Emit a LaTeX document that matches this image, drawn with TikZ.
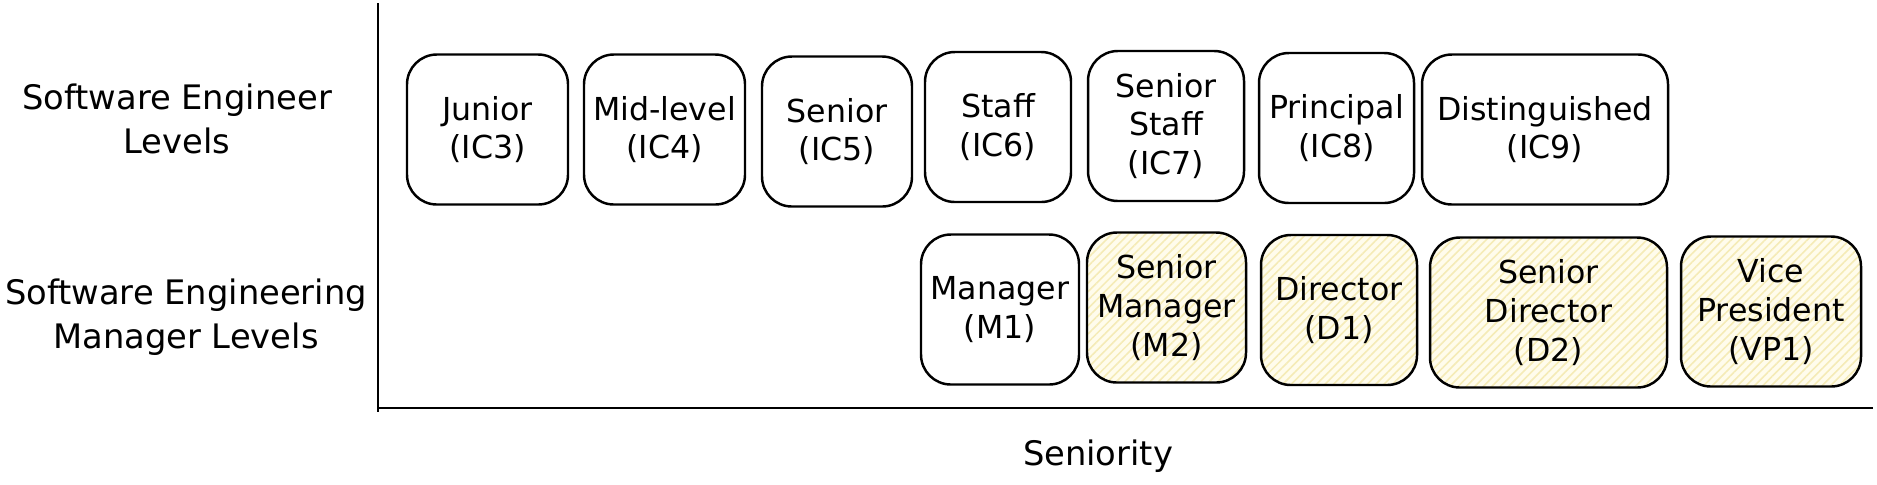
\documentclass[tikz,border=0pt]{standalone}
\usepackage{fontspec}
\setmainfont{DejaVu Sans}
\usetikzlibrary{patterns.meta}
\definecolor{hatchbg}{RGB}{255,252,236}
\definecolor{hatchln}{RGB}{245,235,182}
\begin{document}
\begin{tikzpicture}[line width=.7pt,
  lvl/.style={draw,rounded corners=8.5pt,minimum height=1.5cm,align=center,inner sep=1pt,font=\fontsize{9}{11}\selectfont},
  mgr/.style={lvl,preaction={fill=hatchbg},pattern={Lines[angle=45,distance=1.7pt,line width=.45pt]},pattern color=hatchln},
  lbl/.style={align=center,font=\fontsize{9.6}{12.5}\selectfont}]
\useasboundingbox (0,0) rectangle (18.77,-4.84);
\coordinate (top) at (3.78,-0.03); \coordinate (org) at (3.78,-4.08); \coordinate (end) at (18.73,-4.08);
\draw (top)--([yshift=-1pt]org); \draw (org)--(end);
\node[lbl] (swe) at (1.77,-1.19) {Software Engineer\\Levels};
\node[lbl] (sem) at (1.86,-3.17) {Software Engineering\\Manager Levels};
\node[lbl] (sen) at (10.98,-4.56) {Seniority};
\node[lvl,minimum width=1.61cm] (ic3) at (4.875,-1.295) {Junior\\(IC3)};
\node[lvl,minimum width=1.61cm] (ic4) at (6.645,-1.295) {Mid-level\\(IC4)};
\node[lvl,minimum width=1.50cm] (ic5) at (8.37,-1.315) {Senior\\(IC5)};
\node[lvl,minimum width=1.46cm] (ic6) at (9.98,-1.27) {Staff\\(IC6)};
\node[lvl,minimum width=1.56cm] (ic7) at (11.66,-1.26) {Senior\\Staff\\(IC7)};
\node[lvl,minimum width=1.55cm] (ic8) at (13.365,-1.28) {Principal\\(IC8)};
\node[lvl,minimum width=2.46cm] (ic9) at (15.45,-1.295) {Distinguished\\(IC9)};
\node[lvl,minimum width=1.58cm] (m1) at (10.0,-3.095) {Manager\\(M1)};
\node[mgr,minimum width=1.59cm] (m2) at (11.665,-3.075) {Senior\\Manager\\(M2)};
\node[mgr,minimum width=1.56cm] (d1) at (13.39,-3.10) {Director\\(D1)};
\node[mgr,minimum width=2.37cm] (d2) at (15.485,-3.125) {Senior\\Director\\(D2)};
\node[mgr,minimum width=1.80cm] (vp1) at (17.71,-3.115) {Vice\\President\\(VP1)};
\end{tikzpicture}
\end{document}
